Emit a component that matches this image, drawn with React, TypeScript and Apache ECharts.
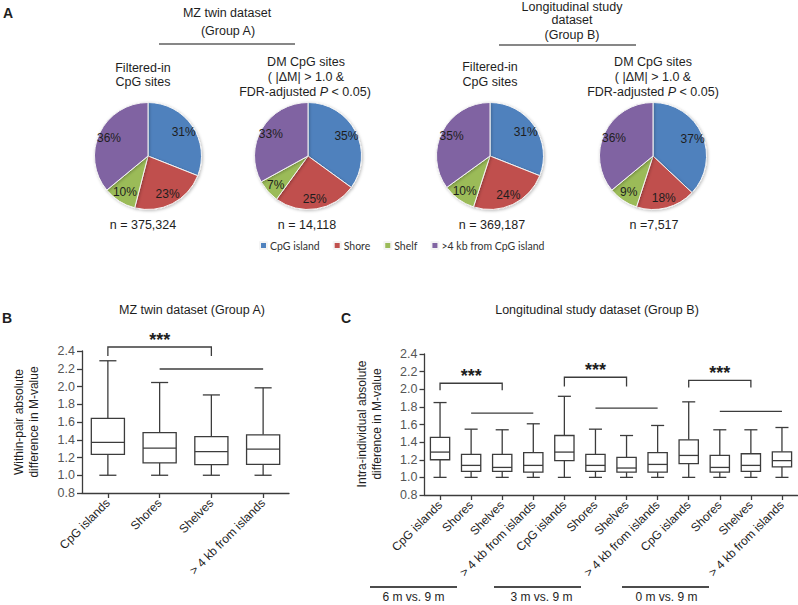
import React, { useEffect, useRef } from "react";
import * as echarts from "echarts";

// ---------- DATA ----------
const regionNames = ["CpG island", "Shore", "Shelf", ">4 kb from CpG island"];
const regionColors = ["#4F81BD", "#C0504D", "#9BBB59", "#8064A2"];

const pieA_filtered = [31, 23, 10, 36];
const pieA_dm = [35, 25, 7, 33];
const pieB_filtered = [31, 24, 10, 35];
const pieB_dm = [37, 18, 9, 36];
const pieCounts = ["n = 375,324", "n = 14,118", "n = 369,187", "n =7,517"];

const categoriesB = ["CpG islands", "Shores", "Shelves", "> 4 kb from islands"];
// [min, q1, median, q3, max]
const boxB_cpg = [1.0, 1.235, 1.37, 1.64, 2.29];
const boxB_shores = [1.0, 1.14, 1.305, 1.48, 2.045];
const boxB_shelves = [1.0, 1.12, 1.267, 1.435, 1.905];
const boxB_distal = [1.0, 1.122, 1.295, 1.456, 1.985];

const categoriesC = [
  "CpG islands", "Shores", "Shelves", "> 4 kb from islands",
  "CpG islands", "Shores", "Shelves", "> 4 kb from islands",
  "CpG islands", "Shores", "Shelves", "> 4 kb from islands",
];
const boxC_6m_cpg = [1.0, 1.2, 1.287, 1.453, 1.849];
const boxC_6m_shores = [1.0, 1.068, 1.136, 1.26, 1.547];
const boxC_6m_shelves = [1.0, 1.068, 1.113, 1.26, 1.54];
const boxC_6m_distal = [1.0, 1.06, 1.136, 1.28, 1.608];
const boxC_3m_cpg = [1.0, 1.19, 1.287, 1.475, 1.92];
const boxC_3m_shores = [1.0, 1.068, 1.136, 1.26, 1.547];
const boxC_3m_shelves = [1.0, 1.06, 1.106, 1.226, 1.475];
const boxC_3m_distal = [1.0, 1.06, 1.147, 1.28, 1.589];
const boxC_0m_cpg = [1.0, 1.155, 1.249, 1.426, 1.857];
const boxC_0m_shores = [1.0, 1.06, 1.113, 1.249, 1.54];
const boxC_0m_shelves = [1.0, 1.068, 1.136, 1.268, 1.54];
const boxC_0m_distal = [1.0, 1.12, 1.19, 1.29, 1.566];

// significance annotations: [fromIdx, toIdx, bracketTop, bracketDrop, starsY]
const bracketsB = [[0, 2, 2.445, 2.344, 2.52]];
// comparison lines: [fromIdx, toIdx, y]
const linesB = [[1, 3, 2.197]];
const bracketsC = [
  [0, 2, 2.068, 1.99, 2.15],
  [4, 6, 2.136, 2.03, 2.22],
  [8, 10, 2.1, 2.02, 2.18],
];
const linesC = [
  [1, 3, 1.73],
  [5, 7, 1.785],
  [9, 11, 1.75],
];
const groupLabelsC = ["6 m vs. 9 m", "3 m vs. 9 m", "0 m vs. 9 m"];
const yTitleB = "Within-pair absolute\ndifference in M-value";
const yTitleC = "Intra-individual absolute\ndifference in M-value";

const yMin = 0.8;
const yMax = 2.4;
const yInterval = 0.2;

const FONT = "'Liberation Sans', Arial, sans-serif";
const INK = "#1e1e1e";
const AXIS = "#3c3c3c";

function makeBoxRender(boxRatio: number, capRatio: number) {
  return (params: any, api: any) => {
    const idx = api.value(0);
    const vals = [1, 2, 3, 4, 5].map((d) => api.value(d));
    const pts = vals.map((v) => api.coord([idx, v]));
    const cx = pts[0][0];
    const band = api.size([1, 0])[0];
    const bw = band * boxRatio;
    const cw = band * capRatio;
    const [yMn, yQ1, yMd, yQ3, yMx] = pts.map((p: number[]) => p[1]);
    const st = { stroke: AXIS, lineWidth: 1.3, fill: null };
    return {
      type: "group",
      children: [
        { type: "line", shape: { x1: cx, y1: yQ3, x2: cx, y2: yMx }, style: st },
        { type: "line", shape: { x1: cx, y1: yQ1, x2: cx, y2: yMn }, style: st },
        { type: "line", shape: { x1: cx - cw / 2, y1: yMx, x2: cx + cw / 2, y2: yMx }, style: st },
        { type: "line", shape: { x1: cx - cw / 2, y1: yMn, x2: cx + cw / 2, y2: yMn }, style: st },
        { type: "rect", shape: { x: cx - bw / 2, y: yQ3, width: bw, height: yQ1 - yQ3 }, style: { stroke: AXIS, lineWidth: 1.3, fill: "#fff" } },
        { type: "line", shape: { x1: cx - bw / 2, y1: yMd, x2: cx + bw / 2, y2: yMd }, style: st },
      ],
    };
  };
}

function bracketRender(params: any, api: any) {
  const a = api.value(0), b = api.value(1);
  const top = api.value(2), drop = api.value(3), sy = api.value(4);
  const p1 = api.coord([a, top]);
  const p2 = api.coord([b, top]);
  const d1 = api.coord([a, drop]);
  const s = api.coord([(a + b) / 2, sy]);
  return {
    type: "group",
    children: [
      {
        type: "polyline",
        shape: { points: [[p1[0], d1[1]], [p1[0], p1[1]], [p2[0], p2[1]], [p2[0], d1[1]]] },
        style: { stroke: AXIS, lineWidth: 1.3, fill: null },
      },
      {
        type: "text",
        x: (p1[0] + p2[0]) / 2,
        y: s[1],
        style: { text: "***", fill: INK, font: `bold 18px ${FONT}`, align: "center", verticalAlign: "middle" },
      },
    ],
  };
}

function lineRender(params: any, api: any) {
  const p1 = api.coord([api.value(0), api.value(2)]);
  const p2 = api.coord([api.value(1), api.value(2)]);
  return {
    type: "line",
    shape: { x1: p1[0], y1: p1[1], x2: p2[0], y2: p2[1] },
    style: { stroke: AXIS, lineWidth: 1.3 },
  };
}

function pieSeries(values: number[], center: number[], r: number) {
  const data = values.map((v, i) => ({ name: regionNames[i], value: v, itemStyle: { color: regionColors[i] } }));
  return [
    {
      type: "pie",
      center,
      radius: [0, r],
      startAngle: 90,
      clockwise: true,
      silent: true,
      label: { show: false },
      labelLine: { show: false },
      itemStyle: { borderColor: "#f4f4f4", borderWidth: 1, shadowBlur: 3, shadowOffsetX: 1, shadowOffsetY: 1, shadowColor: "rgba(0,0,0,0.25)" },
      data,
    },
    {
      type: "pie",
      center,
      radius: [r * 0.5, r],
      startAngle: 90,
      clockwise: true,
      silent: true,
      itemStyle: { color: "transparent", borderWidth: 0 },
      label: { show: true, position: "inside", formatter: "{c}%", color: INK, fontSize: 12, fontFamily: FONT },
      labelLine: { show: false },
      data: values.map((v, i) => ({ name: regionNames[i], value: v })),
    },
  ];
}

function yAxisCommon(gridIndex: number) {
  return {
    type: "value",
    gridIndex,
    min: yMin,
    max: yMax,
    interval: yInterval,
    axisLine: { show: true, lineStyle: { color: AXIS, width: 1.3 } },
    axisTick: { show: true, length: 5, lineStyle: { color: AXIS, width: 1.3 } },
    axisLabel: { color: "#555", fontSize: 12.5, fontFamily: FONT, margin: 7, formatter: (v: number) => v.toFixed(1) },
    splitLine: { show: false },
  };
}

function xAxisCommon(gridIndex: number, data: string[]) {
  return {
    type: "category",
    gridIndex,
    data,
    boundaryGap: true,
    axisLine: { show: true, onZero: false, lineStyle: { color: AXIS, width: 1.3 } },
    axisTick: { show: true, alignWithLabel: true, interval: 0, length: 5, lineStyle: { color: AXIS, width: 1.3 } },
    axisLabel: { interval: 0, rotate: 45, color: INK, fontSize: 12, fontFamily: FONT, margin: 8 },
    splitLine: { show: false },
  };
}

function txt(text: string, x: number, y: number, opts: any = {}) {
  return {
    type: "text",
    x,
    y,
    rotation: opts.rotation || 0,
    silent: true,
    style: {
      text,
      fill: INK,
      font: `${opts.weight || "normal"} ${opts.size || 12.5}px ${FONT}`,
      align: opts.align || "center",
      verticalAlign: "middle",
      ...(opts.lineHeight ? { lineHeight: opts.lineHeight } : {}),
      ...(opts.rich ? { rich: opts.rich } : {}),
    },
  };
}

function hline(x1: number, x2: number, y: number, w = 1.2) {
  return { type: "line", silent: true, shape: { x1, y1: y, x2, y2: y }, style: { stroke: "#111", lineWidth: w } };
}

export default function App() {
  const ref = useRef<HTMLDivElement>(null);
  useEffect(() => {
    if (!ref.current) return;
    const chart = echarts.init(ref.current, undefined, { renderer: "svg" });

    const boxDataB = [boxB_cpg, boxB_shores, boxB_shelves, boxB_distal].map((b, i) => [i, ...b]);
    const boxDataC = [
      boxC_6m_cpg, boxC_6m_shores, boxC_6m_shelves, boxC_6m_distal,
      boxC_3m_cpg, boxC_3m_shores, boxC_3m_shelves, boxC_3m_distal,
      boxC_0m_cpg, boxC_0m_shores, boxC_0m_shelves, boxC_0m_distal,
    ].map((b, i) => [i, ...b]);

    const italicRich = { it: { fontStyle: "italic", fontSize: 12.5, fontFamily: FONT, fill: INK } };

    const option: any = {
      animation: false,
      textStyle: { fontFamily: FONT },
      legend: {
        left: 259,
        top: 240,
        padding: 0,
        icon: "rect",
        itemWidth: 7,
        itemHeight: 7,
        itemGap: 13,
        selectedMode: false,
        textStyle: { fontFamily: "Lato, 'Open Sans', sans-serif", fontSize: 10.5, color: "#333", padding: [0, 0, 0, -2] },
        data: regionNames.map((n, i) => ({ name: n, itemStyle: { color: regionColors[i] } })),
      },
      grid: [
        { left: 82, top: 351, width: 207, height: 142, containLabel: false, outerBoundsMode: "none" },
        { left: 424.5, top: 354, width: 373, height: 141, containLabel: false, outerBoundsMode: "none" },
      ],
      xAxis: [xAxisCommon(0, categoriesB), xAxisCommon(1, categoriesC)],
      yAxis: [yAxisCommon(0), yAxisCommon(1)],
      series: [
        ...pieSeries(pieA_filtered, [148, 156], 53.5),
        ...pieSeries(pieA_dm, [308, 156], 53.5),
        ...pieSeries(pieB_filtered, [490, 156], 53.5),
        ...pieSeries(pieB_dm, [653, 156], 53.5),
        {
          type: "custom",
          xAxisIndex: 0,
          yAxisIndex: 0,
          renderItem: makeBoxRender(0.64, 0.33),
          encode: { x: 0, y: [1, 2, 3, 4, 5] },
          data: boxDataB,
          silent: true,
        },
        {
          type: "custom",
          xAxisIndex: 0,
          yAxisIndex: 0,
          renderItem: bracketRender,
          encode: { x: [0, 1], y: [2, 3, 4] },
          data: bracketsB,
          clip: false,
          silent: true,
        },
        {
          type: "custom",
          xAxisIndex: 0,
          yAxisIndex: 0,
          renderItem: lineRender,
          encode: { x: [0, 1], y: 2 },
          data: linesB,
          clip: false,
          silent: true,
        },
        {
          type: "custom",
          xAxisIndex: 1,
          yAxisIndex: 1,
          renderItem: makeBoxRender(0.62, 0.42),
          encode: { x: 0, y: [1, 2, 3, 4, 5] },
          data: boxDataC,
          silent: true,
        },
        {
          type: "custom",
          xAxisIndex: 1,
          yAxisIndex: 1,
          renderItem: bracketRender,
          encode: { x: [0, 1], y: [2, 3, 4] },
          data: bracketsC,
          clip: false,
          silent: true,
        },
        {
          type: "custom",
          xAxisIndex: 1,
          yAxisIndex: 1,
          renderItem: lineRender,
          encode: { x: [0, 1], y: 2 },
          data: linesC,
          clip: false,
          silent: true,
        },
      ],
      graphic: [
        // panel letters
        txt("A", 8, 12.5, { weight: "bold", size: 14 }),
        txt("B", 7, 318, { weight: "bold", size: 14 }),
        txt("C", 346, 318, { weight: "bold", size: 14 }),
        // Group A header
        txt("MZ twin dataset", 227, 13),
        txt("(Group A)", 228, 31),
        hline(159, 295, 44),
        txt("Filtered-in", 143, 68),
        txt("CpG sites", 143, 82),
        txt("DM CpG sites", 306, 62),
        txt("( |ΔM| > 1.0 &", 306, 77),
        txt("FDR-adjusted {it|P} < 0.05)", 305, 92, { rich: italicRich }),
        // Group B header
        txt("Longitudinal study", 572, 7),
        txt("dataset", 572, 20),
        txt("(Group B)", 572, 35),
        hline(499, 636, 45),
        txt("Filtered-in", 490, 67),
        txt("CpG sites", 490, 82),
        txt("DM CpG sites", 653, 62),
        txt("( |ΔM| > 1.0 &", 653, 77),
        txt("FDR-adjusted {it|P} < 0.05)", 653, 92, { rich: italicRich }),
        // n labels
        txt(pieCounts[0], 143, 225),
        txt(pieCounts[1], 307, 225),
        txt(pieCounts[2], 492, 225),
        txt(pieCounts[3], 654, 225),
        // panel titles
        txt("MZ twin dataset (Group A)", 192, 310),
        txt("Longitudinal study dataset (Group B)", 597, 310),
        // y-axis titles
        txt(yTitleB, 26, 422, { size: 12, rotation: Math.PI / 2, lineHeight: 15 }),
        txt(yTitleC, 369, 424, { size: 12, rotation: Math.PI / 2, lineHeight: 15 }),
        // time comparison groups
        hline(370, 457, 587, 1.6),
        hline(494, 581, 587, 1.6),
        hline(622, 709, 587, 1.6),
        txt(groupLabelsC[0], 413.5, 597, { size: 12 }),
        txt(groupLabelsC[1], 541.5, 597, { size: 12 }),
        txt(groupLabelsC[2], 666.5, 597, { size: 12 }),
      ],
    };
    chart.setOption(option);
    return () => chart.dispose();
  }, []);
  return (
    <div
      ref={ref}
      style={{ position: "absolute", left: 0, top: 0, width: 798, height: 605, background: "#fff" }}
    />
  );
}
